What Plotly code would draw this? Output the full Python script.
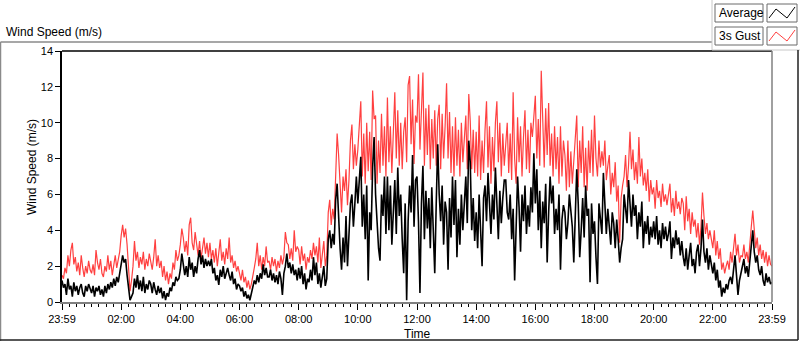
import plotly.graph_objects as go

# ---------------- data (3-minute samples, 23:59 -> 23:59) ----------------
sample_minutes = 3

gust_speed = [
    # 00h
    1.5, 1.3, 1.9, 1.6, 2.6, 2.0, 2.9, 3.3, 2.1, 2.5, 1.7, 2.2, 1.5, 2.6, 1.9, 1.4, 2.0, 1.6, 2.3, 1.8,
    # 01h
    1.6, 2.1, 1.5, 2.9, 2.2, 1.8, 2.4, 1.6, 1.4, 2.0, 1.7, 2.6, 1.8, 2.3, 1.5, 2.0, 2.6, 1.9, 2.3, 2.8,
    # 02h
    3.7, 4.3, 3.6, 4.1, 3.2, 1.6, 0.6, 1.2, 2.0, 3.4, 2.3, 2.8, 1.9, 2.5, 2.1, 2.8, 1.8, 2.4, 2.0, 2.7,
    # 03h
    2.2, 1.8, 2.5, 3.5, 2.0, 2.6, 1.9, 2.3, 1.4, 2.0, 1.2, 1.7, 1.0, 1.6, 1.3, 2.2, 1.8, 2.9, 2.3, 2.6,
    # 04h
    3.2, 4.1, 3.6, 2.8, 3.4, 2.6, 4.3, 4.7, 3.3, 2.9, 3.9, 3.1, 2.6, 3.4, 2.4, 3.0, 3.6, 2.7, 3.3, 2.5,
    # 05h
    3.3, 2.4, 2.9, 2.2, 3.0, 2.0, 2.6, 3.5, 2.3, 2.8, 2.1, 3.0, 2.4, 3.6, 2.2, 2.6, 1.9, 2.3, 1.7, 2.0,
    # 06h
    1.6, 1.2, 1.8, 1.1, 1.4, 0.8, 1.2, 0.7, 1.0, 1.6, 1.9, 2.4, 3.3, 2.0, 2.6, 1.8, 2.5, 2.0, 3.1, 2.2,
    # 07h
    2.3, 1.8, 2.5, 2.0, 2.4, 1.7, 2.3, 1.9, 2.6, 2.1, 2.5, 3.9, 3.3, 3.2, 2.4, 3.0, 2.3, 4.0, 2.8, 3.1,
    # 08h
    2.9, 2.1, 3.1, 2.3, 2.7, 1.8, 2.5, 2.2, 2.9, 2.4, 3.3, 2.6, 3.1, 2.2, 3.6, 1.9, 2.8, 3.4, 2.0, 2.6,
    # 09h
    5.0, 5.7, 4.3, 5.2, 4.6, 7.8, 9.4, 8.2, 6.6, 5.0, 7.0, 6.2, 7.4, 5.4, 6.8, 9.0, 9.9, 7.4, 8.8, 7.6,
    # 10h
    8.5, 9.6, 11.2, 7.0, 9.4, 6.6, 10.0, 7.3, 9.5, 6.8, 11.8, 10.2, 10.4, 6.6, 9.0, 7.2, 10.5, 7.6, 9.8, 7.0,
    # 11h
    11.4, 7.8, 9.8, 7.2, 10.2, 11.7, 8.0, 10.7, 7.6, 10.0, 7.4, 9.5, 10.3, 7.8, 12.1, 12.6, 8.8, 11.3, 7.7, 10.4,
    # 12h
    10.0, 12.7, 8.5, 10.8, 12.8, 7.6, 10.8, 8.2, 11.0, 7.4, 10.2, 8.0, 10.7, 7.6, 10.2, 11.0, 7.4, 10.5, 8.0, 9.8,
    # 13h
    12.2, 8.0, 10.6, 7.2, 9.8, 7.0, 10.3, 7.6, 9.6, 7.0, 10.0, 7.8, 9.5, 10.4, 7.4, 11.6, 10.1, 7.4, 9.6, 7.2,
    # 14h
    9.5, 7.0, 10.4, 6.8, 9.0, 7.2, 9.6, 11.2, 7.5, 9.8, 6.6, 9.2, 7.3, 10.0, 11.2, 7.8, 10.0, 7.0, 9.4, 7.6,
    # 15h
    8.8, 10.0, 7.2, 9.4, 6.8, 11.7, 8.0, 6.6, 10.3, 7.8, 9.8, 7.0, 9.2, 10.7, 7.4, 9.6, 7.2, 10.0, 9.2, 10.6,
    # 16h
    11.5, 8.0, 10.2, 7.6, 12.9, 10.2, 7.5, 10.8, 8.2, 11.1, 7.6, 9.4, 7.0, 9.8, 7.4, 9.2, 6.6, 9.8, 7.0, 9.0,
    # 17h
    8.2, 6.2, 9.0, 6.4, 8.4, 6.6, 8.0, 9.2, 10.4, 6.4, 9.0, 7.2, 9.8, 6.4, 8.6, 6.2, 9.0, 7.2, 9.6, 7.0,
    # 18h
    10.4, 8.0, 7.0, 9.0, 7.5, 8.4, 7.6, 9.0, 6.8, 7.6, 8.2, 6.0, 7.2, 6.4, 7.8, 5.6, 6.5, 3.3, 5.8, 6.5,
    # 19h
    7.0, 8.2, 6.4, 7.6, 9.5, 7.4, 8.5, 6.8, 7.8, 6.6, 9.2, 7.0, 8.0, 6.5, 7.2, 6.2, 7.4, 5.6, 6.8, 6.0,
    # 20h
    6.4, 5.2, 6.8, 5.8, 6.2, 5.3, 6.6, 5.6, 6.0, 5.4, 5.9, 6.6, 5.0, 5.8, 4.8, 6.2, 5.2, 5.6, 4.9, 5.8,
    # 21h
    5.5, 4.0, 5.9, 4.5, 5.2, 3.8, 5.0, 4.2, 4.6, 3.6, 4.4, 3.2, 4.2, 6.1, 4.8, 3.8, 4.4, 3.5, 4.0, 3.4,
    # 22h
    3.0, 4.0, 2.6, 3.4, 2.4, 3.0, 1.8, 2.2, 1.6, 2.0, 2.3, 1.8, 2.8, 2.2, 3.0, 3.8, 2.6, 3.2, 2.2, 2.6,
    # 23h (+ final sample)
    2.5, 3.2, 2.4, 2.8, 2.2, 3.4, 4.2, 5.1, 4.0, 3.0, 3.6, 2.6, 3.2, 2.4, 2.9, 2.2, 2.8, 2.0, 2.6, 2.1, 2.0,
]

avg_speed = [
    # 00h
    1.2, 0.8, 1.0, 0.4, 1.3, 0.7, 0.9, 0.3, 1.1, 0.6, 0.9, 0.4, 0.8, 1.0, 0.5, 0.3, 0.9, 0.6, 1.0, 0.7,
    # 01h
    0.5, 0.9, 0.3, 0.8, 0.6, 0.9, 0.4, 0.7, 0.3, 0.9, 0.5, 1.0, 0.7, 1.1, 0.8, 1.3, 0.9, 1.4, 1.1, 1.6,
    # 02h
    2.0, 2.6, 2.2, 2.4, 1.5, 0.6, 0.1, 0.3, 0.5, 1.3, 0.8, 1.5, 0.7, 1.2, 0.6, 1.4, 0.5, 1.0, 0.7, 1.2,
    # 03h
    1.0, 0.5, 1.1, 0.7, 0.4, 0.9, 0.5, 0.8, 0.2, 0.6, 0.1, 0.5, 0.3, 0.8, 0.6, 1.1, 0.9, 1.4, 1.2, 1.3,
    # 04h
    1.8, 2.7, 2.2, 1.5, 2.0, 1.4, 2.5, 1.8, 2.2, 1.4, 2.0, 1.6, 2.4, 2.9, 2.1, 2.6, 1.9, 2.4, 2.0, 2.3,
    # 05h
    2.0, 2.4, 1.6, 1.9, 1.2, 1.5, 0.95, 1.8, 1.4, 2.0, 1.3, 1.6, 1.9, 1.5, 1.2, 1.7, 1.0, 1.3, 0.7, 1.0,
    # 06h
    0.9, 0.6, 0.8, 0.3, 0.6, 0.2, 0.4, 0.1, 0.5, 0.8, 1.2, 1.0, 1.5, 1.1, 1.6, 1.3, 2.1, 1.5, 1.9, 1.4,
    # 07h
    1.4, 1.8, 1.2, 1.6, 1.1, 1.5, 1.0, 1.7, 1.3, 0.4, 1.6, 2.0, 2.7, 1.9, 2.2, 1.6, 2.1, 1.5, 1.8, 1.2,
    # 08h
    1.9, 1.3, 2.0, 1.0, 1.6, 0.7, 1.3, 1.1, 1.8, 1.2, 2.5, 1.5, 2.2, 1.0, 1.6, 0.8, 1.4, 2.0, 0.9, 1.3,
    # 09h
    3.5, 4.0, 3.0, 3.8, 3.2, 5.7, 6.6, 4.5, 3.0, 1.8, 3.6, 2.2, 4.8, 2.0, 3.4, 5.5, 6.0, 4.2, 5.5, 7.0,
    # 10h
    5.5, 7.0, 8.1, 4.2, 6.0, 3.5, 6.5, 1.2, 5.0, 4.0, 7.5, 9.2, 6.0, 4.5, 3.0, 2.3, 6.0, 4.8, 7.0, 3.8,
    # 11h
    7.0, 4.0, 6.5, 3.2, 5.2, 6.8, 3.8, 7.5, 4.8, 6.0, 3.5, 1.6, 5.5, 0.1, 4.5, 6.5, 5.0, 8.2, 4.2, 6.8,
    # 12h
    7.0, 4.5, 0.5, 5.5, 7.6, 3.5, 6.2, 4.1, 5.8, 3.0, 6.4, 4.2, 1.6, 5.5, 8.8, 6.0, 4.5, 6.5, 3.2, 5.6,
    # 13h
    5.0, 1.8, 5.8, 3.6, 7.0, 4.3, 6.8, 2.5, 5.2, 3.2, 6.0, 4.0, 5.5, 7.0, 4.4, 9.0, 7.8, 4.0, 5.8, 3.4,
    # 14h
    5.0, 3.0, 6.0, 4.2, 2.0, 5.8, 6.5, 4.5, 7.2, 5.5, 3.8, 6.0, 4.6, 7.5, 5.0, 3.5, 6.2, 4.4, 5.8, 6.8,
    # 15h
    6.8, 5.0, 4.6, 6.0, 3.5, 5.2, 1.2, 4.8, 7.0, 5.3, 2.8, 6.0, 4.5, 6.5, 3.8, 5.4, 4.2, 6.4, 5.0, 8.3,
    # 16h
    5.5, 7.4, 4.0, 6.2, 3.0, 5.6, 4.4, 6.6, 2.2, 5.0, 7.0, 5.5, 6.5, 3.8, 5.2, 4.0, 6.0, 1.8, 4.6, 5.4,
    # 17h
    5.0, 3.5, 4.4, 6.0, 5.0, 4.2, 2.2, 5.5, 7.4, 5.5, 2.5, 4.0, 5.8, 3.6, 6.5, 4.8, 5.2, 1.1, 5.5, 3.8,
    # 18h
    4.5, 2.5, 1.0, 5.5, 4.8, 3.8, 7.2, 5.0, 3.8, 5.2, 4.0, 3.2, 5.0, 4.4, 3.0, 4.6, 3.5, 2.2, 3.0, 3.5,
    # 19h
    6.0, 5.2, 4.4, 6.8, 5.5, 4.2, 6.0, 4.8, 5.4, 3.5, 5.0, 4.2, 5.6, 3.0, 4.5, 3.8, 4.8, 3.2, 4.2, 3.6,
    # 20h
    4.5, 3.5, 4.8, 3.2, 4.0, 3.0, 4.4, 3.5, 4.2, 3.4, 3.8, 4.5, 2.4, 3.6, 3.0, 4.0, 3.2, 3.6, 2.6, 3.4,
    # 21h
    2.5, 2.0, 3.0, 1.8, 2.6, 3.3, 2.0, 2.4, 1.6, 2.8, 3.2, 2.0, 3.0, 4.6, 2.8, 2.2, 3.0, 1.8, 2.6, 2.0,
    # 22h
    1.6, 2.2, 1.2, 1.8, 0.8, 1.2, 0.3, 0.8, 0.5, 1.0, 0.7, 1.2, 1.4, 1.0, 1.8, 2.6, 1.5, 0.4, 1.2, 1.6,
    # 23h (+ final sample)
    1.8, 2.4, 1.6, 2.0, 1.4, 2.2, 2.8, 4.0, 2.8, 2.2, 2.6, 1.8, 1.5, 2.0, 1.2, 0.9, 1.6, 1.1, 1.4, 1.0, 1.1,
]

tick_hours = [0, 2, 4, 6, 8, 10, 12, 14, 16, 18, 20, 22, 24]
tick_labels = ["23:59", "02:00", "04:00", "06:00", "08:00", "10:00", "12:00",
               "14:00", "16:00", "18:00", "20:00", "22:00", "23:59"]
y_ticks = [0, 2, 4, 6, 8, 10, 12, 14]

series_names = ["Average", "3s Gust"]
series_colors = ["#000000", "#FF4040"]

hours_gust = [i * sample_minutes / 60 for i in range(len(gust_speed))]
hours_avg = [i * sample_minutes / 60 for i in range(len(avg_speed))]

# ---------------- geometry helpers (pixel -> paper) ----------------
W, H = 800, 342
L, R, T, B = 62, 772, 51, 302
PW, PH = R - L, B - T


def px(x):
    return (x - L) / PW


def py(y):
    return (B - y) / PH


FONT = "Liberation Sans, Arial, sans-serif"

fig = go.Figure()
fig.add_trace(go.Scatter(x=hours_gust, y=gust_speed, mode="lines", name=series_names[1],
                         line=dict(color=series_colors[1], width=1.2), showlegend=False,
                         hoverinfo="skip"))
fig.add_trace(go.Scatter(x=hours_avg, y=avg_speed, mode="lines", name=series_names[0],
                         line=dict(color=series_colors[0], width=1.6), showlegend=False,
                         hoverinfo="skip"))

shapes = []


def line(x0, y0, x1, y1, color, width=1):
    shapes.append(dict(type="line", xref="paper", yref="paper",
                       x0=px(x0), y0=py(y0), x1=px(x1), y1=py(y1),
                       line=dict(color=color, width=width)))


# plot frame: top/left black, right/bottom gray
line(L, T, R, T, "#000000", 1.5)
line(R, T, R, B, "#808080", 1.5)

# outer panel frame
line(0.5, 42, 712, 42, "#8a8a8a", 1.5)
line(0.5, 42, 0.5, 341, "#8a8a8a", 1.5)
line(712, 0, 712, 50, "#c8c8c8", 1)
line(712, 50, 800, 50, "#c8c8c8", 1)
line(798, 50, 798, 340, "#202020", 1.5)
line(0, 340, 798, 340, "#202020", 1.5)

# legend boxes
annotations = []
for i, (name, col) in enumerate(zip(series_names, series_colors)):
    y0 = 4 + i * 23
    y1 = y0 + 18
    shapes.append(dict(type="rect", xref="paper", yref="paper",
                       x0=px(715), x1=px(763), y0=py(y1), y1=py(y0),
                       line=dict(color="#6a6a6a", width=1), fillcolor="white"))
    shapes.append(dict(type="rect", xref="paper", yref="paper",
                       x0=px(767), x1=px(797), y0=py(y1), y1=py(y0),
                       line=dict(color="#6a6a6a", width=1), fillcolor="white"))
    pts = [(769, y0 + 14), (776, y0 + 5), (787, y0 + 14), (795, y0 + 3)]
    path = "M " + " L ".join(f"{px(a)},{py(b)}" for a, b in pts)
    shapes.append(dict(type="path", xref="paper", yref="paper", path=path,
                       line=dict(color=col, width=1)))
    annotations.append(dict(text=name, xref="paper", yref="paper",
                            x=px(717), y=py((y0 + y1) / 2), xanchor="left", yanchor="middle",
                            showarrow=False, font=dict(family=FONT, size=12, color="#000000")))

annotations.append(dict(text="Wind Speed (m/s)", xref="paper", yref="paper",
                        x=px(4), y=py(32), xanchor="left", yanchor="middle",
                        showarrow=False, font=dict(family=FONT, size=12, color="#000000")))
annotations.append(dict(text="Wind Speed (m/s)", xref="paper", yref="paper",
                        x=px(32), y=py(167), xanchor="center", yanchor="middle", textangle=-90,
                        showarrow=False, font=dict(family=FONT, size=12, color="#000000")))
annotations.append(dict(text="Time", xref="paper", yref="paper",
                        x=px(417), y=py(334), xanchor="center", yanchor="middle",
                        showarrow=False, font=dict(family=FONT, size=12, color="#000000")))

fig.update_layout(
    width=W, height=H,
    margin=dict(l=L, r=W - R, t=T, b=H - B, pad=0),
    paper_bgcolor="white", plot_bgcolor="white",
    showlegend=False,
    shapes=shapes, annotations=annotations,
    font=dict(family=FONT, size=11, color="#000000"),
    xaxis=dict(range=[0, 24], tickmode="array", tickvals=tick_hours, ticktext=tick_labels,
               showgrid=False, zeroline=False, showline=True, linecolor="#808080", linewidth=1.5,
               ticks="outside", ticklen=6, tickcolor="#000000", tickwidth=1,
               tickfont=dict(family=FONT, size=11, color="#000000"),
               minor=dict(dtick=0.25, tick0=0, ticks="outside", ticklen=3, tickcolor="#000000",
                          tickwidth=1, showgrid=False)),
    yaxis=dict(range=[0, 14], tickmode="array", tickvals=y_ticks,
               showgrid=False, zeroline=False, showline=True, linecolor="#000000", linewidth=1.5,
               ticks="outside", ticklen=5, tickcolor="#000000", tickwidth=1,
               tickfont=dict(family=FONT, size=11, color="#000000")),
)

fig.write_html("out.html", config={"displayModeBar": False},
               post_script="document.body.style.margin='0px';")
